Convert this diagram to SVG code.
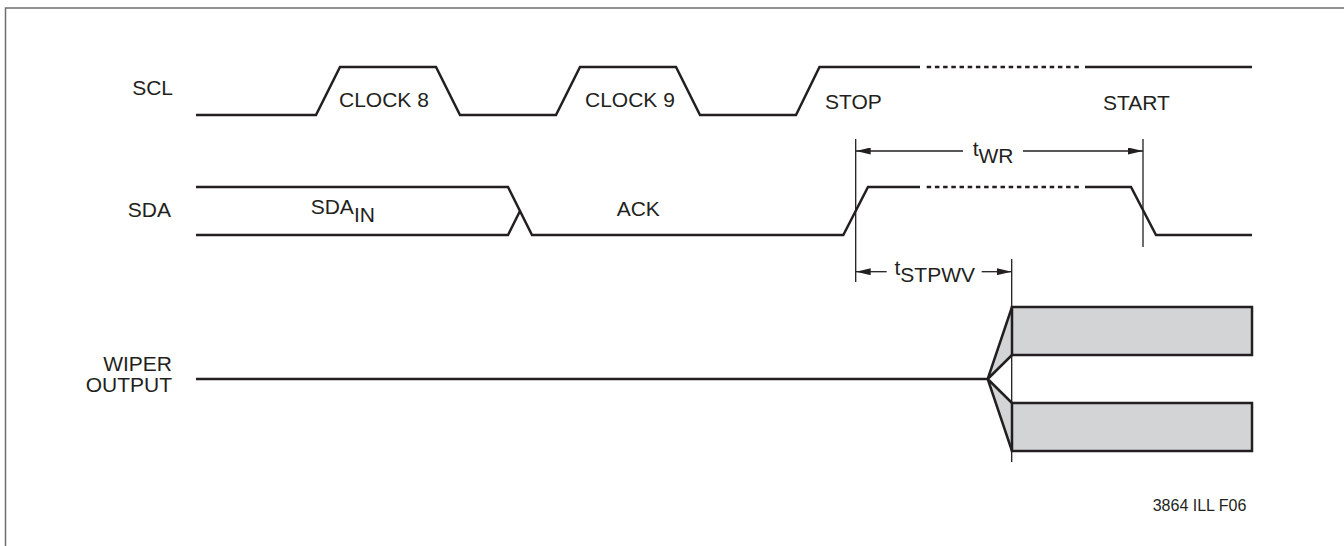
<svg xmlns="http://www.w3.org/2000/svg" width="1344" height="546" viewBox="0 0 1344 546">
<style>
text{font-family:"Liberation Sans",Arial,sans-serif;font-size:21px;fill:#231f20}
.sig{fill:none;stroke:#231f20;stroke-width:2.5;stroke-linejoin:miter}
.dash{fill:none;stroke:#231f20;stroke-width:2.5;stroke-dasharray:4.5 3.7}
.dim{fill:none;stroke:#231f20;stroke-width:1.3}
.box{fill:#d3d4d6;stroke:#231f20;stroke-width:2.5}
.r{text-anchor:end}
</style>
<defs>
<marker id="arr" viewBox="0 0 15 7" refX="15" refY="3.5" markerWidth="15" markerHeight="7" markerUnits="userSpaceOnUse" orient="auto-start-reverse">
<path d="M0,0 L15,3.5 L0,7 z" fill="#231f20"/>
</marker>
</defs>
<rect width="1344" height="546" fill="#fff"/>
<path d="M5.5,546 V8 H1344" fill="none" stroke="#6d6e70" stroke-width="1.5"/>

<g id="scl">
<text class="r" x="173" y="95">SCL</text>
<path class="sig" d="M196,115 H316 L340,67 H436 L460,115 H556 L580,67 H676 L700,115 H796 L819.5,67 H920"/>
<path class="dash" d="M926.7,67 H1082"/>
<path class="sig" d="M1085,67 H1252"/>
<text x="339" y="107">CLOCK 8</text>
<text x="585" y="107">CLOCK 9</text>
<text x="825" y="109">STOP</text>
<text x="1103" y="110">START</text>
</g>

<g id="sda">
<text class="r" x="171" y="217">SDA</text>
<path class="sig" d="M196,187 H508 L532,235 H843.3 L868,187 H920"/>
<path class="sig" d="M196,235 H508 L520,211"/>
<path class="dash" d="M926.7,187 H1082"/>
<path class="sig" d="M1085,187 H1131 L1156,235 H1252"/>
<text x="310.7" y="214">SDA<tspan dy="7.7">IN</tspan></text>
<text x="616.7" y="215.7">ACK</text>
</g>

<g id="wiper">
<text class="r" x="172" y="371">WIPER</text>
<text class="r" x="172" y="392">OUTPUT</text>
<path d="M987.7,379 L1012,307 L1012,355 z M987.7,379 L1012,403 L1012,451 z" fill="#d3d4d6"/>
<rect class="box" x="1012" y="307" width="240" height="48"/>
<rect class="box" x="1012" y="403" width="240" height="48"/>
<path class="sig" d="M196,379 H987.7 L1012,307 M987.7,379 L1012,355 M987.7,379 L1012,403 M987.7,379 L1012,451"/>
</g>

<g id="connectors">
<path class="dim" d="M855.7,139 V282 M1143,139 V247 M1011.7,259 V462"/>
<path class="dim" d="M963,151 H855.7" marker-end="url(#arr)"/>
<path class="dim" d="M1023,151 H1143" marker-end="url(#arr)"/>
<path class="dim" d="M886.7,271.7 H855.7" marker-end="url(#arr)"/>
<path class="dim" d="M981.7,271.7 H1011.7" marker-end="url(#arr)"/>
</g>

<g id="dim-labels">
<text x="972.7" y="156">t<tspan dy="7">WR</tspan></text>
<text x="894.5" y="275">t<tspan dy="7.3">STPWV</tspan></text>
</g>

<text x="1152.7" y="511" style="font-size:16px">3864 ILL F06</text>
</svg>
